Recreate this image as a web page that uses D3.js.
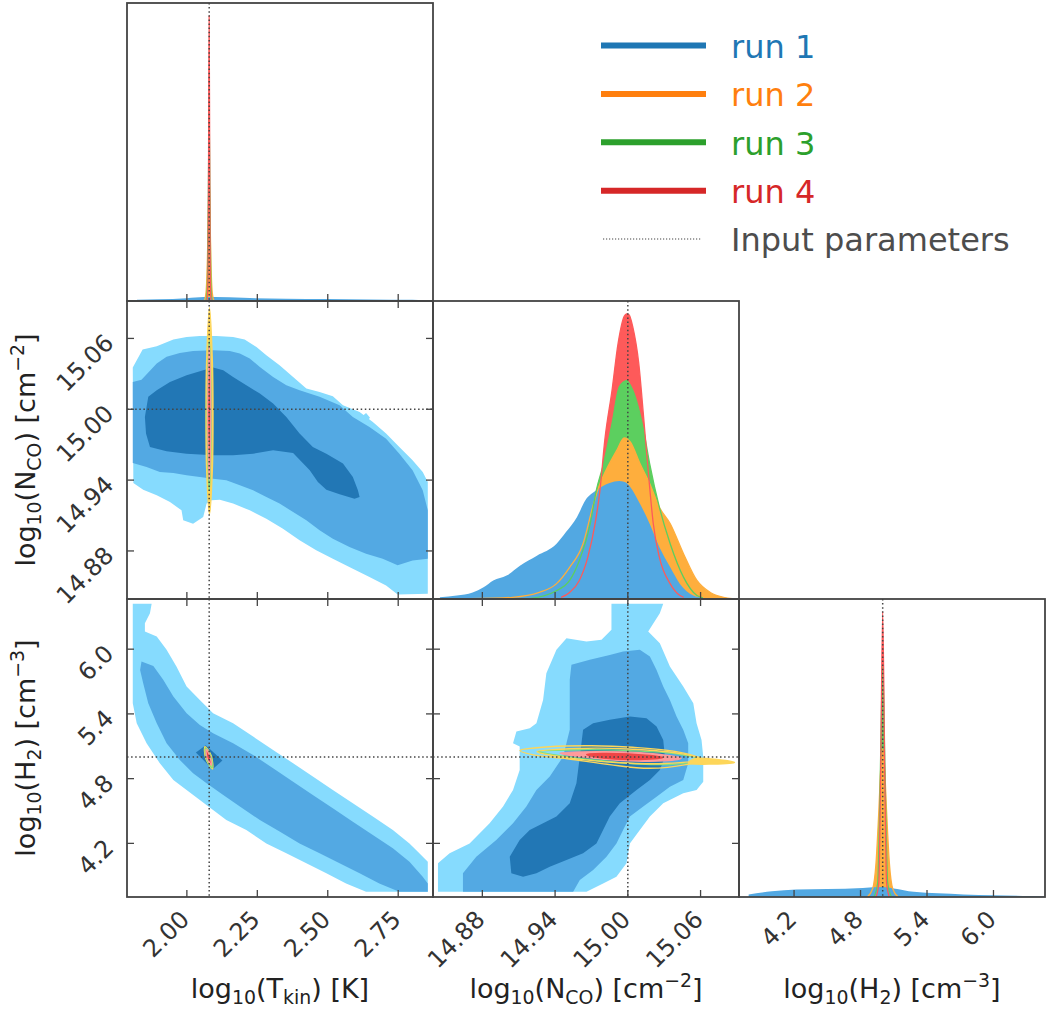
<!DOCTYPE html>
<html>
<head>
<meta charset="utf-8">
<script src="https://cdn.jsdelivr.net/npm/d3@7"></script>
<style>
  body { margin: 0; background: #fff; }
  svg { font-family: "DejaVu Sans", sans-serif; }
</style>
</head>
<body>
<svg id="chart" width="1046" height="1014"></svg>
<script>
// ---- axes / ticks (log10 units) ----
const tkinRange = [1.7875, 2.8735];
const ncoRange = [14.8393, 15.0917];
const h2Range = [3.703, 6.465];
const tkinTicks = [2.00, 2.25, 2.50, 2.75];
const ncoTicks = [14.88, 14.94, 15.00, 15.06];
const h2Ticks = [4.2, 4.8, 5.4, 6.0];
const inputParams = [2.0792, 15.00, 5.00];
const densityMax = 1.045;

const runNames = ["run 1", "run 2", "run 3", "run 4"];
const runColors = ["#1f77b4", "#ff7f0e", "#2ca02c", "#d62728"];
const inputLabel = "Input parameters";

// ---- 1D marginals, [value, normalised density] ----
const tkinRun1 = [[1.823,0.004],[1.90,0.006],[2.00,0.010],[2.06,0.014],[2.10,0.014],[2.20,0.011],[2.35,0.008],[2.50,0.007],[2.65,0.005],[2.80,0.004],[2.843,0.002]];
const tkinRun2 = [[2.062,0],[2.068,0.03],[2.073,0.15],[2.0765,0.33],[2.079,0.433],[2.0815,0.33],[2.085,0.15],[2.090,0.03],[2.096,0]];
const tkinRun3 = [[2.069,0],[2.073,0.06],[2.0765,0.4],[2.079,0.667],[2.0815,0.4],[2.085,0.06],[2.089,0]];
const tkinRun4 = [[2.072,0],[2.075,0.08],[2.077,0.5],[2.079,1.0],[2.081,0.5],[2.083,0.08],[2.086,0]];

const ncoRun1 = [[14.845,0.006],[14.859,0.012],[14.872,0.023],[14.881,0.041],[14.889,0.065],[14.900,0.082],[14.911,0.117],[14.925,0.152],[14.941,0.193],[14.949,0.235],[14.958,0.287],[14.965,0.346],[14.974,0.381],[14.985,0.407],[14.993,0.414],[14.999,0.407],[15.002,0.393],[15.010,0.334],[15.018,0.264],[15.026,0.182],[15.035,0.111],[15.043,0.053],[15.054,0.012],[15.062,0.004]];
const ncoRun2 = [[14.870,0.001],[14.905,0.006],[14.927,0.023],[14.941,0.053],[14.952,0.111],[14.963,0.193],[14.971,0.322],[14.976,0.393],[14.982,0.451],[14.991,0.522],[14.997,0.565],[15.002,0.551],[15.010,0.475],[15.018,0.405],[15.026,0.322],[15.035,0.264],[15.046,0.158],[15.057,0.065],[15.068,0.023],[15.079,0.006],[15.086,0.001]];
const ncoRun3 = [[14.919,0.001],[14.941,0.029],[14.952,0.065],[14.960,0.135],[14.969,0.264],[14.974,0.381],[14.980,0.475],[14.987,0.616],[14.993,0.744],[14.999,0.766],[15.004,0.733],[15.013,0.592],[15.018,0.475],[15.026,0.322],[15.035,0.193],[15.046,0.076],[15.057,0.012],[15.062,0.004]];
const ncoRun4 = [[14.945,0.006],[14.952,0.023],[14.960,0.065],[14.967,0.147],[14.973,0.264],[14.977,0.381],[14.981,0.557],[14.987,0.733],[14.992,0.897],[14.997,0.991],[14.999,1.0],[15.001,0.997],[15.004,0.956],[15.009,0.827],[15.013,0.639],[15.017,0.440],[15.021,0.264],[15.026,0.147],[15.035,0.053],[15.043,0.012],[15.046,0.006]];

const h2Run1 = [[3.79,0.009],[4.0,0.02],[4.22,0.026],[4.5,0.028],[4.82,0.032],[5.0,0.035],[5.1,0.03],[5.28,0.018],[5.5,0.013],[5.73,0.009],[6.0,0.006],[6.33,0.0035],[6.46,0.002]];
const h2Run2 = [[4.86,0],[4.91,0.03],[4.94,0.12],[4.965,0.3],[4.985,0.47],[5.0,0.519],[5.015,0.47],[5.035,0.3],[5.06,0.12],[5.09,0.03],[5.14,0]];
const h2Run3 = [[4.92,0],[4.955,0.05],[4.975,0.35],[4.99,0.68],[5.0,0.8075],[5.01,0.68],[5.025,0.35],[5.045,0.05],[5.08,0]];
const h2Run4 = [[4.94,0],[4.965,0.05],[4.982,0.45],[5.0,1.0],[5.018,0.45],[5.035,0.05],[5.06,0]];

// ---- 2D contours of run 1 (outer level 3 -> inner level 1) ----
const tkinNcoLevel3 = [[1.808,15.0353],[1.822,15.0415],[1.843,15.0506],[1.893,15.0534],[1.952,15.0590],[1.999,15.0613],[2.046,15.0621],[2.105,15.0621],[2.164,15.0613],[2.205,15.0590],[2.247,15.0528],[2.282,15.0458],[2.329,15.0373],[2.377,15.0274],[2.424,15.0175],[2.471,15.0147],[2.518,15.0110],[2.554,15.0034],[2.613,14.9977],[2.660,14.9893],[2.707,14.9794],[2.754,14.9681],[2.801,14.9568],[2.837,14.9469],[2.855,14.9384],[2.855,14.8438],[2.748,14.8432],[2.707,14.8508],[2.648,14.8579],[2.589,14.8650],[2.518,14.8734],[2.459,14.8805],[2.400,14.8890],[2.341,14.8989],[2.282,14.9073],[2.223,14.9144],[2.164,14.9201],[2.117,14.9234],[2.087,14.9229],[2.070,14.9201],[2.058,14.9088],[2.022,14.9031],[1.987,14.9059],[1.981,14.9144],[1.940,14.9215],[1.893,14.9271],[1.845,14.9319],[1.810,14.9376]];
const tkinNcoBlob = [[2.636,14.9969],[2.650,14.9929],[2.636,14.9893],[2.619,14.9935]];
const tkinNcoLevel2 = [[1.808,15.0232],[1.839,15.0251],[1.893,15.0387],[1.928,15.0444],[1.975,15.0477],[2.022,15.0494],[2.093,15.0500],[2.152,15.0494],[2.188,15.0472],[2.223,15.0429],[2.259,15.0359],[2.306,15.0274],[2.353,15.0203],[2.400,15.0161],[2.471,15.0105],[2.542,15.0034],[2.589,14.9935],[2.648,14.9850],[2.707,14.9751],[2.754,14.9624],[2.801,14.9483],[2.837,14.9314],[2.855,14.9144],[2.855,14.8734],[2.801,14.8720],[2.748,14.8678],[2.695,14.8734],[2.636,14.8777],[2.577,14.8833],[2.518,14.8904],[2.471,14.8975],[2.424,14.9059],[2.377,14.9130],[2.329,14.9201],[2.282,14.9257],[2.235,14.9314],[2.188,14.9356],[2.140,14.9398],[2.093,14.9412],[2.046,14.9427],[1.999,14.9441],[1.952,14.9460],[1.904,14.9469],[1.857,14.9511],[1.808,14.9545]];
const tkinNcoLevel1 = [[1.863,15.0105],[1.893,15.0161],[1.940,15.0232],[1.999,15.0288],[2.058,15.0331],[2.093,15.0353],[2.129,15.0331],[2.164,15.0274],[2.211,15.0203],[2.259,15.0133],[2.306,15.0048],[2.353,14.9935],[2.400,14.9794],[2.447,14.9681],[2.495,14.9624],[2.554,14.9540],[2.589,14.9427],[2.607,14.9314],[2.613,14.9257],[2.595,14.9243],[2.542,14.9280],[2.495,14.9319],[2.465,14.9384],[2.436,14.9483],[2.377,14.9630],[2.306,14.9653],[2.235,14.9624],[2.164,14.9610],[2.093,14.9610],[1.999,14.9624],[1.928,14.9644],[1.869,14.9681],[1.855,14.9794],[1.851,14.9935]];

const tkinH2Level3 = [[1.808,6.421],[1.875,6.421],[1.869,6.334],[1.851,6.241],[1.851,6.164],[1.893,6.118],[1.928,5.994],[1.963,5.839],[1.999,5.654],[2.046,5.530],[2.093,5.406],[2.164,5.314],[2.235,5.190],[2.306,5.066],[2.377,4.943],[2.447,4.819],[2.518,4.695],[2.589,4.572],[2.660,4.448],[2.731,4.324],[2.790,4.200],[2.825,4.108],[2.855,4.030],[2.855,3.752],[2.636,3.752],[2.565,3.829],[2.495,3.922],[2.424,4.015],[2.353,4.108],[2.282,4.200],[2.211,4.324],[2.140,4.417],[2.093,4.510],[2.046,4.602],[1.999,4.695],[1.952,4.788],[1.904,4.943],[1.857,5.128],[1.822,5.314],[1.808,5.499]];
const tkinH2Level2 = [[1.839,5.886],[1.881,5.845],[1.916,5.716],[1.952,5.561],[1.999,5.406],[2.046,5.298],[2.093,5.221],[2.164,5.128],[2.235,5.020],[2.306,4.896],[2.377,4.772],[2.447,4.649],[2.518,4.525],[2.589,4.401],[2.660,4.278],[2.731,4.154],[2.790,4.030],[2.837,3.891],[2.855,3.829],[2.855,3.752],[2.754,3.752],[2.683,3.829],[2.613,3.922],[2.542,4.015],[2.471,4.108],[2.400,4.200],[2.329,4.309],[2.259,4.417],[2.188,4.541],[2.129,4.649],[2.070,4.757],[2.022,4.850],[1.975,4.973],[1.928,5.128],[1.893,5.314],[1.863,5.499],[1.845,5.685],[1.834,5.808]];
const tkinH2Level1 = [[2.032,5.042],[2.067,5.110],[2.126,4.967],[2.091,4.887]];

const ncoH2Level3 = [[14.9865,6.421],[15.0292,6.421],[15.0264,6.334],[15.0168,6.164],[15.0264,6.056],[15.0347,5.839],[15.0457,5.654],[15.0540,5.499],[15.0567,5.314],[15.0608,5.159],[15.0622,5.004],[15.0622,4.772],[15.0567,4.695],[15.0457,4.664],[15.0292,4.572],[15.0182,4.448],[15.0099,4.324],[15.0017,4.200],[14.9989,4.015],[14.9906,3.891],[14.9796,3.829],[14.9659,3.752],[14.8434,3.752],[14.8434,4.015],[14.8530,4.108],[14.8695,4.200],[14.8860,4.386],[14.8971,4.541],[14.9053,4.695],[14.9108,4.881],[14.9108,5.097],[14.9053,5.128],[14.9081,5.236],[14.9191,5.267],[14.9246,5.314],[14.9301,5.530],[14.9328,5.777],[14.9411,5.994],[14.9494,6.102],[14.9659,6.071],[14.9783,6.087],[14.9865,6.179]];
const ncoH2Level2 = [[14.9535,5.855],[14.9686,5.901],[14.9851,5.947],[14.9961,5.978],[15.0099,5.994],[15.0182,5.932],[15.0237,5.808],[15.0292,5.654],[15.0347,5.530],[15.0402,5.375],[15.0457,5.252],[15.0498,5.128],[15.0498,4.943],[15.0457,4.788],[15.0347,4.726],[15.0237,4.633],[15.0127,4.541],[15.0017,4.448],[14.9961,4.324],[14.9906,4.200],[14.9824,4.077],[14.9714,3.953],[14.9604,3.860],[14.9549,3.752],[14.8640,3.752],[14.8640,3.922],[14.8750,4.077],[14.8915,4.231],[14.9053,4.386],[14.9163,4.541],[14.9246,4.695],[14.9356,4.819],[14.9466,5.004],[14.9521,5.252],[14.9521,5.499],[14.9521,5.716]];
const ncoH2Level1 = [[14.9631,5.252],[14.9714,5.314],[14.9851,5.345],[15.0017,5.375],[15.0154,5.360],[15.0237,5.283],[15.0292,5.159],[15.0306,5.004],[15.0264,4.881],[15.0182,4.788],[15.0072,4.695],[14.9934,4.572],[14.9851,4.448],[14.9796,4.324],[14.9741,4.200],[14.9631,4.108],[14.9494,4.046],[14.9356,3.984],[14.9246,3.922],[14.9136,3.891],[14.9039,3.922],[14.9026,4.077],[14.9108,4.231],[14.9191,4.324],[14.9301,4.386],[14.9411,4.448],[14.9521,4.572],[14.9576,4.757],[14.9604,5.004]];

// ---- 2D contours of runs 2-4 (narrow) ----
const tkinNcoRun2 = [[2.0803,15.086],[2.0905,15.04],[2.0927,14.998],[2.0905,14.95],[2.0803,14.911],[2.070,14.95],[2.0679,14.998],[2.070,15.04]];
const tkinNcoRun3 = [[2.0795,15.058],[2.0865,14.995],[2.0795,14.931],[2.0725,14.995]];
const tkinNcoRun4 = [[2.0795,15.054],[2.085,14.997],[2.0795,14.940],[2.074,14.997]];

const tkinH2Run2 = [[2.064,5.097],[2.086,5.014],[2.091,4.890],[2.067,4.989]];
const tkinH2Run3 = [[2.066,5.085],[2.084,5.010],[2.089,4.900],[2.069,4.990]];
const tkinH2Run4 = [[2.069,5.070],[2.082,5.005],[2.087,4.925],[2.071,4.995]];

const ncoH2Run2a = [[14.911,5.060],[14.935,5.095],[14.970,5.105],[15.004,5.091],[15.040,5.050],[15.062,4.975],[15.048,4.930],[15.018,4.896],[14.985,4.930],[14.950,4.985],[14.922,5.020]];
const ncoH2Run2b = [[14.925,5.050],[14.960,5.080],[15.000,5.075],[15.045,5.030],[15.060,4.980],[15.030,4.940],[14.990,4.950],[14.950,4.995]];
const ncoH2Run2c = [[15.055,4.985],[15.075,4.975],[15.088,4.950],[15.070,4.935],[15.050,4.945]];
const ncoH2Run3 = [[14.926,5.050],[14.960,5.068],[15.000,5.060],[15.040,5.030],[15.061,4.975],[15.040,4.935],[15.010,4.935],[14.970,4.975],[14.940,5.020]];
const ncoH2Run4a = [[14.944,5.036],[14.975,5.050],[15.010,5.040],[15.044,4.990],[15.030,4.965],[14.995,4.968],[14.960,5.005]];
const ncoH2Run4b = [[14.966,5.025],[15.000,5.030],[15.029,4.995],[15.010,4.978],[14.980,4.990]];

// axis labels, split in normal / sub / sup parts
const tkinLabel = [["log",""],["10","sub"],["(T",""],["kin","sub"],[") [K]",""]];
const ncoLabel = [["log",""],["10","sub"],["(N",""],["CO","sub"],[") [cm",""],["\u22122","sup"],["]",""]];
const h2Label = [["log",""],["10","sub"],["(H",""],["2","sub"],[") [cm",""],["\u22123","sup"],["]",""]];

// ---------------------------------------------------------------
const svg = d3.select("#chart");
const padL = 127, padT = 3, cellW = 306, cellH = 298;
const ranges = [tkinRange, ncoRange, h2Range];
const tickSets = [tkinTicks, ncoTicks, h2Ticks];
const fmts = [d3.format(".2f"), d3.format(".2f"), d3.format(".1f")];
const labels = [tkinLabel, ncoLabel, h2Label];
const marginals = [[tkinRun1, tkinRun2, tkinRun3, tkinRun4], [ncoRun1, ncoRun2, ncoRun3, ncoRun4], [h2Run1, h2Run2, h2Run3, h2Run4]];

const frameColor = "#444";
const blues = ["#86dbfe", "#53a9e3", "#2277b5"];
const margFill = ["#52a8e2", "#feae3d", "#5ccf5f", "#fe5a5a"];
const gold = "#fdd65a", green2d = "#7ee07e", pink2d = "#ff9a9a", red2d = "#ef4646";

const xs = i => d3.scaleLinear().domain(ranges[i]).range([padL + i * cellW, padL + (i + 1) * cellW]);
const ys = j => d3.scaleLinear().domain(ranges[j]).range([padT + (j + 1) * cellH, padT + j * cellH]);
const ds = j => d3.scaleLinear().domain([0, densityMax]).range([padT + (j + 1) * cellH, padT + j * cellH]);

const defs = svg.append("defs");
function clipFor(r, c) {
  const id = `clip-${r}-${c}`;
  defs.append("clipPath").attr("id", id).append("rect")
    .attr("x", padL + c * cellW).attr("y", padT + r * cellH)
    .attr("width", cellW).attr("height", cellH);
  return `url(#${id})`;
}

// ---- diagonal panels ----
[0, 1, 2].forEach(k => {
  const x = xs(k), y = ds(k);
  const g = svg.append("g").attr("clip-path", clipFor(k, k));
  const area = d3.area().x(d => x(d[0])).y0(y(0)).y1(d => y(d[1])).curve(d3.curveMonotoneX);
  const line = d3.line().x(d => x(d[0])).y(d => y(d[1])).curve(d3.curveMonotoneX);
  [3, 2, 1, 0].forEach(r => {
    g.append("path").attr("d", area(marginals[k][r])).attr("fill", margFill[r]);
  });
  [1, 2, 3].forEach(r => {
    g.append("path").attr("d", line(marginals[k][r])).attr("fill", "none")
      .attr("stroke", margFill[r]).attr("stroke-width", 1.3);
  });
});

// ---- 2D panels ----
const panels2d = [
  { r: 1, c: 0,
    fills: [[tkinNcoLevel3, blues[0]], [tkinNcoBlob, blues[0]], [tkinNcoLevel2, blues[1]], [tkinNcoLevel1, blues[2]]],
    runs: [[tkinNcoRun2, gold, gold], [tkinNcoRun3, null, green2d], [tkinNcoRun4, red2d, pink2d]] },
  { r: 2, c: 0,
    fills: [[tkinH2Level3, blues[0]], [tkinH2Level2, blues[1]], [tkinH2Level1, blues[2]]],
    runs: [[tkinH2Run2, gold, gold], [tkinH2Run3, null, green2d], [tkinH2Run4, red2d, pink2d]] },
  { r: 2, c: 1,
    fills: [[ncoH2Level3, blues[0]], [ncoH2Level2, blues[1]], [ncoH2Level1, blues[2]]],
    runs: [[ncoH2Run4a, pink2d, pink2d], [ncoH2Run4b, red2d, red2d], [ncoH2Run3, null, green2d],
           [ncoH2Run2b, null, gold], [ncoH2Run2a, null, gold], [ncoH2Run2c, gold, gold]] }
];

panels2d.forEach(p => {
  const x = xs(p.c), y = ys(p.r);
  const g = svg.append("g").attr("clip-path", clipFor(p.r, p.c));
  const poly = d3.line().x(d => x(d[0])).y(d => y(d[1])).curve(d3.curveLinearClosed);
  const smooth = d3.line().x(d => x(d[0])).y(d => y(d[1])).curve(d3.curveCatmullRomClosed.alpha(0.5));
  p.fills.forEach(([pts, col]) => g.append("path").attr("d", poly(pts)).attr("fill", col));
  p.runs.forEach(([pts, fill, stroke]) => {
    g.append("path").attr("d", smooth(pts))
      .attr("fill", fill || "none")
      .attr("stroke", stroke).attr("stroke-width", 1.4);
  });
});

// ---- input parameter dotted lines ----
const dotted = (sel) => sel.attr("stroke", "#444").attr("stroke-width", 1.5).attr("stroke-dasharray", "1.5,2.6");
for (let r = 0; r < 3; r++) {
  for (let c = 0; c <= r; c++) {
    const x0 = padL + c * cellW, y0 = padT + r * cellH;
    const xv = xs(c)(inputParams[c]);
    svg.append("line").attr("x1", xv).attr("x2", xv).attr("y1", y0).attr("y2", y0 + cellH).call(dotted);
    if (r !== c) {
      const yv = ys(r)(inputParams[r]);
      svg.append("line").attr("x1", x0).attr("x2", x0 + cellW).attr("y1", yv).attr("y2", yv).call(dotted);
    }
  }
}

// ---- frames and ticks ----
const tickLen = 7;
for (let r = 0; r < 3; r++) {
  for (let c = 0; c <= r; c++) {
    const x0 = padL + c * cellW, y0 = padT + r * cellH;
    const g = svg.append("g");
    const x = xs(c);
    tickSets[c].forEach(t => {
      g.append("line").attr("x1", x(t)).attr("x2", x(t)).attr("y1", y0 + cellH).attr("y2", y0 + cellH - tickLen);
      if (r !== c) g.append("line").attr("x1", x(t)).attr("x2", x(t)).attr("y1", y0).attr("y2", y0 + tickLen);
    });
    if (r !== c) {
      const y = ys(r);
      tickSets[r].forEach(t => {
        g.append("line").attr("x1", x0).attr("x2", x0 + tickLen).attr("y1", y(t)).attr("y2", y(t));
        g.append("line").attr("x1", x0 + cellW).attr("x2", x0 + cellW - tickLen).attr("y1", y(t)).attr("y2", y(t));
      });
    }
    g.selectAll("line").attr("stroke", frameColor).attr("stroke-width", 1.3);
    svg.append("rect").attr("x", x0).attr("y", y0).attr("width", cellW).attr("height", cellH)
      .attr("fill", "none").attr("stroke", frameColor).attr("stroke-width", 1.8);
  }
}

// ---- tick labels ----
const bottomY = padT + 3 * cellH;
for (let c = 0; c < 3; c++) {
  const x = xs(c);
  svg.append("g").selectAll("text").data(tickSets[c]).join("text")
    .attr("transform", t => `translate(${x(t) + 4},${bottomY + 24}) rotate(-45)`)
    .attr("text-anchor", "end").attr("font-size", 24).attr("fill", "#333")
    .text(t => fmts[c](t));
}
for (let r = 1; r < 3; r++) {
  const y = ys(r);
  svg.append("g").selectAll("text").data(tickSets[r]).join("text")
    .attr("transform", t => `translate(${padL - 12},${y(t) + 6}) rotate(-45)`)
    .attr("text-anchor", "end").attr("font-size", 24).attr("fill", "#333")
    .text(t => fmts[r](t));
}

// ---- axis labels ----
function writeLabel(textSel, parts) {
  let shift = 0;
  parts.forEach(([s, kind]) => {
    const target = kind === "sub" ? 6 : kind === "sup" ? -11 : 0;
    textSel.append("tspan").attr("dy", target - shift)
      .attr("font-size", kind ? "70%" : null).text(s);
    shift = target;
  });
}
for (let c = 0; c < 3; c++) {
  const t = svg.append("text").attr("x", padL + (c + 0.5) * cellW).attr("y", 998)
    .attr("text-anchor", "middle").attr("font-size", 27).attr("fill", "#222");
  writeLabel(t, labels[c]);
}
for (let r = 1; r < 3; r++) {
  const t = svg.append("text").attr("transform", `translate(35,${padT + (r + 0.5) * cellH}) rotate(-90)`)
    .attr("text-anchor", "middle").attr("font-size", 27).attr("fill", "#222");
  writeLabel(t, labels[r]);
}

// ---- legend ----
const legY = d3.scalePoint().domain([...runNames, inputLabel]).range([45.5, 239]);
const legend = svg.append("g");
runNames.forEach((name, i) => {
  legend.append("line").attr("x1", 601).attr("x2", 706).attr("y1", legY(name)).attr("y2", legY(name))
    .attr("stroke", runColors[i]).attr("stroke-width", 6);
  legend.append("text").attr("x", 731).attr("y", legY(name) + 12.5)
    .attr("font-size", 32).attr("fill", runColors[i]).text(name);
});
legend.append("line").attr("x1", 603).attr("x2", 702).attr("y1", legY(inputLabel)).attr("y2", legY(inputLabel))
  .attr("stroke", "#444").attr("stroke-width", 1.2).attr("stroke-dasharray", "1.2,1.8");
legend.append("text").attr("x", 731).attr("y", legY(inputLabel) + 12)
  .attr("font-size", 32).attr("fill", "#4d4d4d").text(inputLabel);
</script>
</body>
</html>
